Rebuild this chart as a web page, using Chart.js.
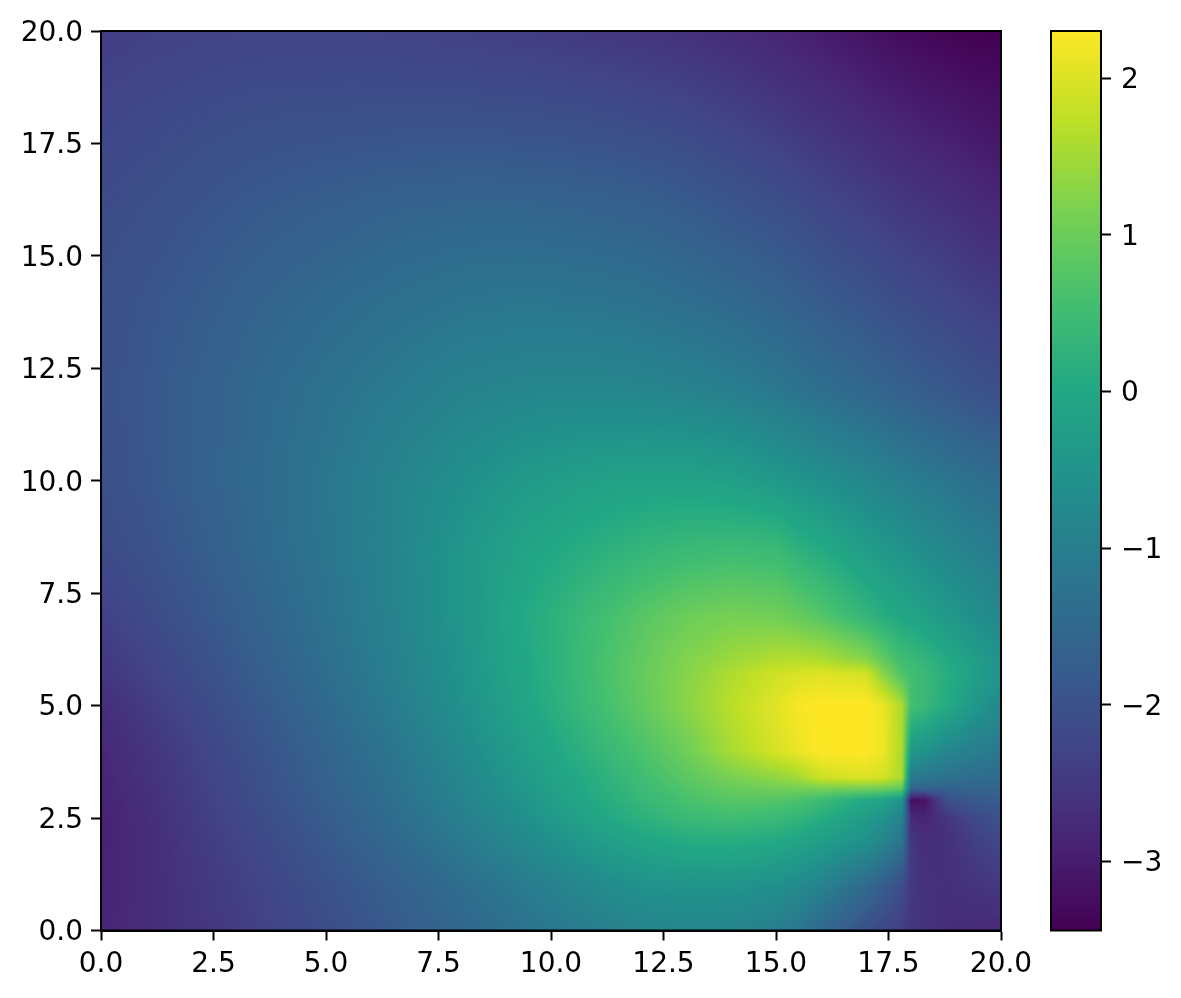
<!DOCTYPE html>
<html>
<head>
<meta charset="utf-8">
<title>Heatmap</title>
<script src="https://cdn.jsdelivr.net/npm/chart.js@4"></script>
<style>
  html, body { margin: 0; padding: 0; background: #fff; }
  #wrap { position: relative; width: 1181px; height: 998px; overflow: hidden; }
  canvas { position: absolute; top: 0; }
  #heatChart { left: 0; }
  #barChart { left: 1040px; }
</style>
</head>
<body>
<div id="wrap">
  <canvas id="heatChart" width="1040" height="998"></canvas>
  <canvas id="barChart" width="141" height="998"></canvas>
</div>
<script>
// values, grid columns / rows are denser around the hot spot
const gridX = [0, 1, 2, 3.5, 5, 6.5, 8, 9.5, 11, 12, 13, 14, 15, 15.5, 16, 17, 17.4, 17.8, 18, 18.3, 18.8, 19.4, 20];
const gridY = [20, 18, 16, 14, 12, 10, 8.5, 7, 6, 5.7, 5, 4, 3.4, 3.15, 2.9, 2.5, 2, 1, 0];
const gridValues = [
  [-2.42,-2.37,-2.33,-2.3,-2.3,-2.32,-2.36,-2.42,-2.5,-2.56,-2.63,-2.72,-2.85,-2.92,-3,-3.15,-3.22,-3.28,-3.3,-3.33,-3.38,-3.43,-3.44],
  [-2.25,-2.18,-2.12,-2.05,-2.02,-2,-2,-2.02,-2.07,-2.13,-2.2,-2.32,-2.45,-2.53,-2.6,-2.75,-2.82,-2.87,-2.9,-2.95,-3,-3.08,-3.15],
  [-2.12,-2.04,-1.95,-1.82,-1.72,-1.62,-1.57,-1.57,-1.63,-1.68,-1.78,-1.9,-2.02,-2.1,-2.2,-2.35,-2.42,-2.5,-2.52,-2.55,-2.62,-2.72,-2.8],
  [-2.03,-1.93,-1.82,-1.62,-1.47,-1.33,-1.22,-1.18,-1.22,-1.28,-1.37,-1.48,-1.62,-1.7,-1.8,-1.95,-2.03,-2.1,-2.13,-2.18,-2.25,-2.35,-2.42],
  [-2,-1.88,-1.72,-1.5,-1.28,-1.08,-.9,-.82,-.8,-.83,-.9,-1,-1.15,-1.25,-1.35,-1.52,-1.6,-1.68,-1.72,-1.78,-1.85,-1.97,-2.05],
  [-2.05,-1.9,-1.72,-1.45,-1.18,-.88,-.6,-.35,-.2,-.15,-.15,-.22,-.38,-.48,-.6,-.8,-.9,-1,-1.05,-1.1,-1.2,-1.32,-1.42],
  [-2.15,-2,-1.8,-1.5,-1.2,-.85,-.45,-.1,.15,.3,.4,.45,.4,.2,.05,-.3,-.42,-.52,-.6,-.68,-.8,-.95,-1.1],
  [-2.35,-2.15,-1.95,-1.62,-1.28,-.9,-.45,.05,.5,.78,1,1.1,1.05,.92,.75,.3,.1,-.05,-.1,-.2,-.38,-.6,-.8],
  [-2.5,-2.3,-2.08,-1.72,-1.35,-.95,-.5,0,.55,.9,1.22,1.45,1.65,1.68,1.62,1.3,.9,.5,.42,.3,.05,-.25,-.55],
  [-2.55,-2.33,-2.12,-1.75,-1.38,-.98,-.52,0,.55,.92,1.25,1.6,1.88,1.98,2.03,1.94,1.25,.7,.55,.4,.12,-.2,-.5],
  [-2.7,-2.45,-2.22,-1.85,-1.47,-1.05,-.58,-.05,.5,.88,1.28,1.7,2.05,2.25,2.32,2.32,2.12,1.55,.55,.4,.05,-.4,-.75],
  [-2.8,-2.58,-2.35,-1.98,-1.6,-1.2,-.72,-.22,.3,.65,1.02,1.55,1.95,2.15,2.32,2.32,2.15,1.55,-.35,-.5,-.8,-1,-1.15],
  [-2.85,-2.62,-2.4,-2.03,-1.65,-1.27,-.82,-.33,.15,.5,.82,1.12,1.35,1.5,1.85,2,1.9,1.55,-1.1,-1.2,-1.3,-1.4,-1.45],
  [-2.87,-2.65,-2.42,-2.05,-1.68,-1.3,-.87,-.38,.1,.42,.72,.95,1.05,1.08,1.1,1.05,1,.85,-1.6,-1.7,-1.65,-1.62,-1.62],
  [-2.88,-2.67,-2.44,-2.08,-1.72,-1.34,-.9,-.45,.05,.35,.62,.8,.75,.65,.45,.0,-.15,-.5,-3.2,-3.15,-2.05,-1.85,-1.75],
  [-2.9,-2.7,-2.47,-2.13,-1.78,-1.4,-1,-.55,-.08,.2,.42,.5,.42,.3,.1,-.3,-.55,-.95,-2.75,-2.85,-2.55,-2.2,-2],
  [-2.9,-2.72,-2.5,-2.2,-1.85,-1.5,-1.12,-.72,-.3,-.08,.08,.12,.02,-.1,-.25,-.6,-.85,-1.25,-2.55,-2.68,-2.65,-2.4,-2.2],
  [-2.88,-2.72,-2.55,-2.3,-2,-1.7,-1.38,-1.05,-.72,-.55,-.5,-.5,-.6,-.72,-.9,-1.45,-1.75,-2.1,-2.5,-2.62,-2.65,-2.58,-2.5],
  [-2.85,-2.72,-2.58,-2.35,-2.1,-1.8,-1.55,-1.25,-1,-.88,-.82,-.85,-1,-1.2,-1.5,-2.05,-2.25,-2.4,-2.55,-2.62,-2.7,-2.75,-2.78]
];
const axisTicks = [0, 2.5, 5, 7.5, 10, 12.5, 15, 17.5, 20];
const barTicks = [-3, -2, -1, 0, 1, 2];
const valueMin = -3.44;
const valueMax = 2.3;
const viridis = ['#440154', '#482475', '#414487', '#355f8d', '#2a788e', '#21918c', '#22a884', '#44bf70', '#7ad151', '#bddf26', '#fde725'];

const tickFont = { family: '"DejaVu Sans"', size: 28 };
const stops = viridis.map(c => [1, 3, 5].map(i => parseInt(c.slice(i, i + 2), 16)));

function colorFor(v) {
  const t = Math.min(1, Math.max(0, (v - valueMin) / (valueMax - valueMin))) * (stops.length - 1);
  const i = Math.min(stops.length - 2, Math.floor(t));
  const f = t - i;
  return stops[i].map((c, k) => c + (stops[i + 1][k] - c) * f);
}

// index of the grid interval holding v (grid may run up or down)
function findCell(grid, v) {
  const up = grid[1] > grid[0];
  for (let i = 0; i < grid.length - 2; i++) {
    if (up ? v <= grid[i + 1] : v >= grid[i + 1]) return i;
  }
  return grid.length - 2;
}

function sampleGrid(x, y) {
  const i = findCell(gridX, x);
  const j = findCell(gridY, y);
  const fx = Math.min(1, Math.max(0, (x - gridX[i]) / (gridX[i + 1] - gridX[i])));
  const fy = Math.min(1, Math.max(0, (y - gridY[j]) / (gridY[j + 1] - gridY[j])));
  const top = gridValues[j][i] * (1 - fx) + gridValues[j][i + 1] * fx;
  const bottom = gridValues[j + 1][i] * (1 - fx) + gridValues[j + 1][i + 1] * fx;
  return top * (1 - fy) + bottom * fy;
}

// the y labels sit a bit high with canvas middle baseline, push them down
function nudgeLabels(scale, dy) {
  const compute = scale._computeLabelItems;
  scale._computeLabelItems = function (area) {
    const items = compute.call(this, area);
    items.forEach(it => { it.options.translation[1] += dy; });
    return items;
  };
}

function strokeFrame(chart) {
  const { ctx, chartArea: a } = chart;
  ctx.save();
  ctx.strokeStyle = '#000';
  ctx.lineWidth = 2;
  ctx.strokeRect(a.left, a.top, a.right - a.left, a.bottom - a.top);
  ctx.restore();
}

const heatLayer = {
  id: 'heatLayer',
  beforeDatasetsDraw(chart) {
    const { ctx, chartArea: a, scales } = chart;
    const w = Math.round(a.right - a.left);
    const h = Math.round(a.bottom - a.top);
    const img = ctx.createImageData(w, h);
    for (let py = 0; py < h; py++) {
      const y = scales.y.getValueForPixel(a.top + py + 0.5);
      for (let px = 0; px < w; px++) {
        const x = scales.x.getValueForPixel(a.left + px + 0.5);
        const c = colorFor(sampleGrid(x, y));
        const o = (py * w + px) * 4;
        img.data[o] = c[0];
        img.data[o + 1] = c[1];
        img.data[o + 2] = c[2];
        img.data[o + 3] = 255;
      }
    }
    ctx.putImageData(img, Math.round(a.left), Math.round(a.top));
  },
  afterDraw: strokeFrame
};

const barLayer = {
  id: 'barLayer',
  beforeDatasetsDraw(chart) {
    const { ctx, chartArea: a, scales } = chart;
    for (let py = Math.floor(a.top); py < a.bottom; py++) {
      const c = colorFor(scales.y.getValueForPixel(py + 0.5));
      ctx.fillStyle = `rgb(${c[0]},${c[1]},${c[2]})`;
      ctx.fillRect(a.left, py, a.right - a.left, 1);
    }
  },
  afterDraw: strokeFrame
};

function axisOptions(extra) {
  return Object.assign({
    type: 'linear',
    grid: { drawOnChartArea: false, drawTicks: true, tickLength: 10, tickColor: '#000', tickWidth: 2 },
    border: { display: true, color: '#000', width: 2 }
  }, extra);
}

const gridPoints = [];
gridY.forEach((y, j) => gridX.forEach((x, i) => gridPoints.push({ x: x, y: y, v: gridValues[j][i] })));

const heatChart = new Chart(document.getElementById('heatChart'), {
  type: 'scatter',
  data: { datasets: [{ data: gridPoints, pointRadius: 0, pointHoverRadius: 0 }] },
  options: {
    responsive: false,
    animation: false,
    events: [],
    layout: { padding: { top: 31, right: 39, left: 0, bottom: 0 } },
    plugins: { legend: { display: false }, tooltip: { enabled: false } },
    scales: {
      x: axisOptions({
        min: 0, max: 20,
        afterBuildTicks(s) { s.ticks = axisTicks.map(v => ({ value: v })); },
        afterFit(s) { s.height = 67.5; },
        ticks: { font: tickFont, color: '#000', padding: 7, maxRotation: 0, autoSkip: false, callback: v => v.toFixed(1) }
      }),
      y: axisOptions({
        min: 0, max: 20,
        afterBuildTicks(s) { s.ticks = axisTicks.map(v => ({ value: v })); },
        afterFit(s) { s.width = 101; },
        ticks: { font: tickFont, color: '#000', padding: 8, autoSkip: false, callback: v => v.toFixed(1) }
      })
    }
  },
  plugins: [heatLayer]
});

const barChart = new Chart(document.getElementById('barChart'), {
  type: 'scatter',
  data: { datasets: [{ data: [], pointRadius: 0 }] },
  options: {
    responsive: false,
    animation: false,
    events: [],
    layout: { padding: { top: 31, left: 11, right: 0, bottom: 67.5 } },
    plugins: { legend: { display: false }, tooltip: { enabled: false } },
    scales: {
      x: { display: false, min: 0, max: 1 },
      y: axisOptions({
        position: 'right',
        min: valueMin, max: valueMax,
        afterBuildTicks(s) { s.ticks = barTicks.map(v => ({ value: v })); },
        afterFit(s) { s.width = 80; },
        ticks: { font: tickFont, color: '#000', padding: 10, autoSkip: false, callback: v => String(v).replace('-', '\u2212') }
      })
    }
  },
  plugins: [barLayer]
});

nudgeLabels(heatChart.scales.y, 2.5);
nudgeLabels(barChart.scales.y, 2.5);
heatChart.scales.y._labelItems = null;
barChart.scales.y._labelItems = null;
heatChart.draw();
barChart.draw();
</script>
</body>
</html>
